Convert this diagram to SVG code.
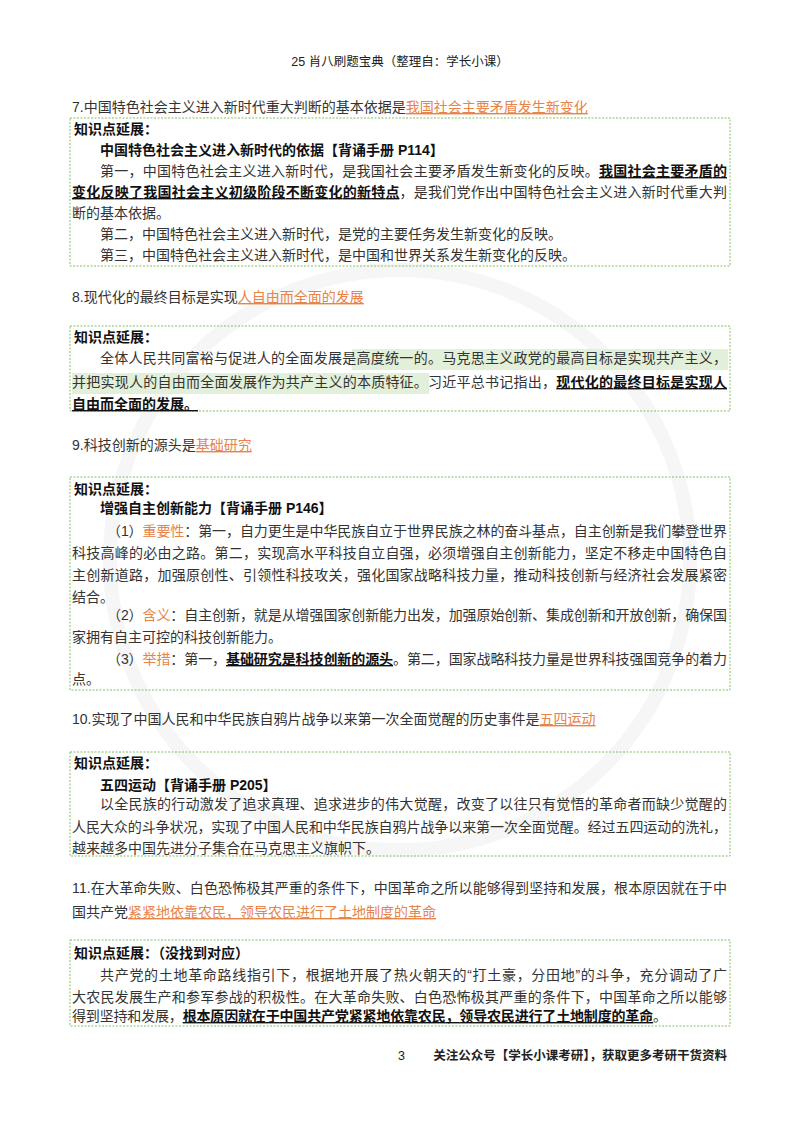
<svg xmlns="http://www.w3.org/2000/svg" width="800" height="1132" viewBox="0 0 800 1132">
<style>
text{font-family:"Liberation Sans","Noto Sans CJK SC",sans-serif;font-size:14px;fill:#333}
.h{font-size:12.5px;fill:#222}
.o{fill:#e8834a;text-decoration:underline}
.b{font-weight:bold;fill:#111}
.u{font-weight:bold;fill:#111;text-decoration:underline}
.box{fill:none;stroke:#7fc35c;stroke-width:1;stroke-dasharray:2 1.5}
.hl{fill:#e2efd9}
</style>
<rect width="800" height="1132" fill="#fff"/>
<g id="watermark" fill="none" stroke="#f6f6f6" stroke-width="14">
<circle cx="400" cy="560" r="290"/>
</g>
<text class="h" x="400" y="66" text-anchor="middle">25 肖八刷题宝典（整理自：学长小课）</text>

<g id="q7">
<text x="72" y="112">7.中国特色社会主义进入新时代重大判断的基本依据是<tspan class="o">我国社会主要矛盾发生新变化</tspan></text>
<rect class="box" x="70" y="118" width="660" height="148"/>
<text class="b" x="74" y="134">知识点延展：</text>
<text class="b" x="100" y="155">中国特色社会主义进入新时代的依据【背诵手册 P114】</text>
<text x="100" y="176" textLength="627" lengthAdjust="spacing">第一，中国特色社会主义进入新时代，是我国社会主要矛盾发生新变化的反映。<tspan class="u">我国社会主要矛盾的</tspan></text>
<text x="72" y="197" textLength="655" lengthAdjust="spacing"><tspan class="u">变化反映了我国社会主义初级阶段不断变化的新特点</tspan>，是我们党作出中国特色社会主义进入新时代重大判</text>
<text x="72" y="218">断的基本依据。</text>
<text x="100" y="239">第二，中国特色社会主义进入新时代，是党的主要任务发生新变化的反映。</text>
<text x="100" y="260">第三，中国特色社会主义进入新时代，是中国和世界关系发生新变化的反映。</text>
</g>

<g id="q8">
<text x="72" y="302">8.现代化的最终目标是实现<tspan class="o">人自由而全面的发展</tspan></text>
<rect class="box" x="70" y="326" width="660" height="85"/>
<rect class="hl" x="352" y="349" width="376" height="21"/>
<rect class="hl" x="72" y="373" width="357" height="21"/>
<text class="b" x="74" y="342">知识点延展：</text>
<text x="100" y="363" textLength="627" lengthAdjust="spacing">全体人民共同富裕与促进人的全面发展是高度统一的。马克思主义政党的最高目标是实现共产主义，</text>
<text x="72" y="387" textLength="655" lengthAdjust="spacing">并把实现人的自由而全面发展作为共产主义的本质特征。习近平总书记指出，<tspan class="u">现代化的最终目标是实现人</tspan></text>
<text x="72" y="409"><tspan class="u">自由而全面的发展。</tspan></text>
</g>

<g id="q9">
<text x="72" y="450">9.科技创新的源头是<tspan class="o">基础研究</tspan></text>
<rect class="box" x="70" y="477" width="660" height="213"/>
<text class="b" x="74" y="494">知识点延展：</text>
<text class="b" x="100" y="513">增强自主创新能力【背诵手册 P146】</text>
<text x="107" y="536" textLength="620" lengthAdjust="spacing">（1）<tspan fill="#e8834a">重要性</tspan>：第一，自力更生是中华民族自立于世界民族之林的奋斗基点，自主创新是我们攀登世界</text>
<text x="72" y="558" textLength="655" lengthAdjust="spacing">科技高峰的必由之路。第二，实现高水平科技自立自强，必须增强自主创新能力，坚定不移走中国特色自</text>
<text x="72" y="580" textLength="655" lengthAdjust="spacing">主创新道路，加强原创性、引领性科技攻关，强化国家战略科技力量，推动科技创新与经济社会发展紧密</text>
<text x="72" y="602">结合。</text>
<text x="107" y="620" textLength="620" lengthAdjust="spacing">（2）<tspan fill="#e8834a">含义</tspan>：自主创新，就是从增强国家创新能力出发，加强原始创新、集成创新和开放创新，确保国</text>
<text x="72" y="642">家拥有自主可控的科技创新能力。</text>
<text x="107" y="664" textLength="620" lengthAdjust="spacing">（3）<tspan fill="#e8834a">举措</tspan>：第一，<tspan class="u">基础研究是科技创新的源头</tspan>。第二，国家战略科技力量是世界科技强国竞争的着力</text>
<text x="72" y="684">点。</text>
</g>

<g id="q10">
<text x="72" y="724">10.实现了中国人民和中华民族自鸦片战争以来第一次全面觉醒的历史事件是<tspan class="o">五四运动</tspan></text>
<rect class="box" x="70" y="752" width="660" height="104"/>
<text class="b" x="74" y="768">知识点延展：</text>
<text class="b" x="100" y="790">五四运动【背诵手册 P205】</text>
<text x="100" y="809" textLength="627" lengthAdjust="spacing">以全民族的行动激发了追求真理、追求进步的伟大觉醒，改变了以往只有觉悟的革命者而缺少觉醒的</text>
<text x="72" y="832" textLength="655" lengthAdjust="spacing">人民大众的斗争状况，实现了中国人民和中华民族自鸦片战争以来第一次全面觉醒。经过五四运动的洗礼，</text>
<text x="72" y="853">越来越多中国先进分子集合在马克思主义旗帜下。</text>
</g>

<g id="q11">
<text x="72" y="893" textLength="655" lengthAdjust="spacing">11.在大革命失败、白色恐怖极其严重的条件下，中国革命之所以能够得到坚持和发展，根本原因就在于中</text>
<text x="72" y="917">国共产党<tspan class="o">紧紧地依靠农民，领导农民进行了土地制度的革命</tspan></text>
<rect class="box" x="70" y="940" width="660" height="86"/>
<text class="b" x="74" y="958">知识点延展：（没找到对应）</text>
<text x="100" y="980" textLength="627" lengthAdjust="spacing">共产党的土地革命路线指引下，根据地开展了热火朝天的“打土豪，分田地”的斗争，充分调动了广</text>
<text x="72" y="1002" textLength="655" lengthAdjust="spacing">大农民发展生产和参军参战的积极性。在大革命失败、白色恐怖极其严重的条件下，中国革命之所以能够</text>
<text x="72" y="1021" textLength="595" lengthAdjust="spacing">得到坚持和发展，<tspan class="u">根本原因就在于中国共产党紧紧地依靠农民，领导农民进行了土地制度的革命</tspan>。</text>
</g>

<text class="h" x="398" y="1060" font-size="12">3</text>
<text class="h" x="727" y="1060" text-anchor="end" font-weight="bold">关注公众号【学长小课考研】，获取更多考研干货资料</text>
</svg>
